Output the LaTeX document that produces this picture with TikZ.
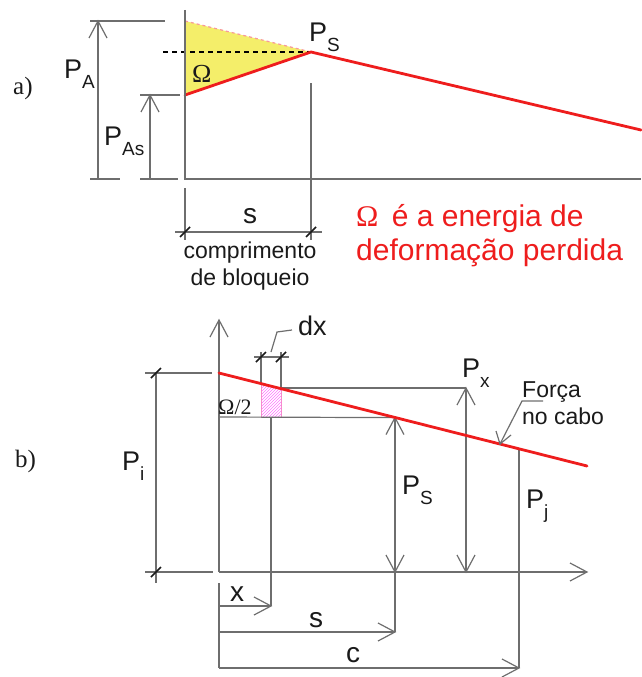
\documentclass[tikz,border=0pt]{standalone}
\usepackage{fontspec}
\setmainfont{Liberation Sans}
\newfontfamily\serfont{Liberation Serif}
\usetikzlibrary{patterns}
\definecolor{gl}{HTML}{6E6E6E}
\definecolor{rd}{HTML}{EE1D1D}
\definecolor{yl}{HTML}{F4EE6A}
\definecolor{txt}{HTML}{1A1A1A}
\newcommand\Psub[1]{{\fontsize{27}{27}\selectfont P\raisebox{-0.36em}{\fontsize{19}{19}\selectfont #1}}}
\begin{document}
\begin{tikzpicture}[x=1pt,y=-1pt,
  dim/.style={draw=gl,line width=1.2pt},
  redline/.style={draw=rd,line width=2.8pt,line cap=round,line join=round},
  lbl/.style={inner sep=0pt,text=txt},
  pics/slashtick/.style={code={\draw[line width=1.5pt,txt] (-5,5)--(5,-5);}},
  pics/vup/.style={code={\draw[dim,line join=miter] (-9,17)--(0,0)--(9,17);}},
  pics/vdown/.style={code={\draw[dim,line join=miter] (-9,-17)--(0,0)--(9,-17);}},
  pics/vright/.style={code={\draw[dim,line join=miter] (-17,-9)--(0,0)--(-17,9);}}]
\useasboundingbox (0,0) rectangle (641,677);

% ================= a) =================
\coordinate (A0) at (185,179);
\coordinate (ATop) at (185,21);
\coordinate (ALow) at (185,95);
\coordinate (PS) at (311,52);
\coordinate (AEnd) at (641,130);

\fill[yl] (ATop) -- (PS) -- (ALow) -- cycle;
\draw[rd!45,line width=1.2pt,dashed] (ATop) -- (PS);
\draw[black,line width=1.2pt,dash pattern=on 5pt off 4pt] (163,52) -- (PS);
\draw[redline] (ALow) -- (PS) -- (AEnd);

% axes
\draw[dim] (185,10) -- (A0) -- (641,179);
\draw[dim] (185,188) -- (185,240);
\draw[dim] (311,83) -- (311,240);

% P_A
\draw[dim] (90,21) -- (165,21);
\draw[dim] (90,179) -- (120,179);
\draw[dim] (98,179) -- (98,21);
\pic at (98,21) {vup};
% P_As
\draw[dim] (140,95) -- (180,95);
\draw[dim] (140,179) -- (178,179);
\draw[dim] (150,179) -- (150,95);
\pic at (150,95) {vup};

% s dimension
\draw[dim] (175,232) -- (322,232);
\pic at (185,232) {slashtick};
\pic at (311,232) {slashtick};

\node[lbl,anchor=west] (la) at (13,88) {\serfont\fontsize{25}{25}\selectfont a)};
\node[lbl,anchor=west] (lpa) at (64,74) {\Psub{A}};
\node[lbl,anchor=west] (lpas) at (104,141) {\Psub{As}};
\node[lbl,anchor=west] (lps) at (309,37) {\Psub{S}};
\node[lbl,anchor=west] (lom) at (192,74) {\serfont\fontsize{26}{26}\selectfont Ω};
\node[lbl] (ls) at (250,216) {\fontsize{28}{28}\selectfont s};
\node[lbl,align=center,font=\fontsize{23}{27}\selectfont] (lcomp) at (250,266) {comprimento\\de bloqueio};
\node[lbl,anchor=west,text=rd,align=left,font=\fontsize{30}{34}\selectfont] (lred) at (356,236)
  {{\serfont Ω}\, é a energia de\\deformação perdida};

% ================= b) =================
\coordinate (O) at (219,572);
\coordinate (Pi) at (219,373);
\coordinate (Pe) at (587,466);
\coordinate (PSb) at (395,417.6);
\coordinate (Pxb) at (466,388);
\coordinate (Pjb) at (519,448.9);
\coordinate (Fa) at (500,444);

% hatched strip
\path[pattern=north east lines,pattern color=magenta!55]
  (261,383.6) -- (281,388.7) -- (281,417) -- (261,417) -- cycle;
\draw[magenta!45,line width=0.8pt] (261,383.6) -- (261,417) -- (281,417) -- (281,388.7);

% axes
\draw[dim] (O) -- (219,320);
\pic at (219,320) {vup};
\draw[dim] (O) -- (587,572);
\pic at (587,572) {vright};
\draw[dim] (145,572) -- (213,572);
\draw[dim] (219,583) -- (219,668);

% P_i
\draw[dim] (145,373) -- (212,373);
\draw[dim] (156,373) -- (156,583);
\pic at (156,373) {slashtick};
\pic at (156,572) {slashtick};

% helper lines
\draw[dim] (219,417) -- (PSb);
\draw[dim] (281,388) -- (Pxb);
\draw[dim] (261,352) -- (261,383.6);
\draw[dim] (281,352) -- (281,388.7);
\draw[dim] (271,417) -- (271,606);

% dx
\draw[dim] (254,357) -- (289,357);
\pic at (261,357) {slashtick};
\pic at (281,357) {slashtick};
\draw[dim] (271,352) -- (277,332) -- (292,330);

% P_S, P_x, P_j
\draw[dim] (PSb) -- (395,632);
\pic at (PSb) {vup};
\pic at (395,572) {vdown};
\draw[dim] (Pxb) -- (466,572);
\pic at (Pxb) {vup};
\pic at (466,572) {vdown};
\draw[dim] (Pjb) -- (519,668);

% x, s, c dimensions
\draw[dim] (219,606) -- (271,606);
\pic at (271,606) {vright};
\draw[dim] (219,632) -- (395,632);
\pic at (395,632) {vright};
\draw[dim] (219,668) -- (519,668);
\pic at (519,668) {vright};

% red force line
\draw[redline] (Pi) -- (Pe);

% Forca leader
\draw[dim] (543,401) -- (522,401) -- (Fa);
\draw[dim,line join=miter] (496,431) -- (Fa) -- (511,435);

% labels
\node[lbl,anchor=west] (lb) at (15,461) {\serfont\fontsize{25}{25}\selectfont b)};
\node[lbl,anchor=west] (lpi) at (122,466) {\Psub{i}};
\node[lbl,anchor=west] (lpsb) at (402,490) {\Psub{S}};
\node[lbl,anchor=west] (lpj) at (526,506) {\Psub{j}};
\node[lbl,anchor=west] (lpx) at (462,373) {\Psub{x}};
\node[lbl,anchor=west] (ldx) at (298,326) {\fontsize{27}{27}\selectfont dx};
\node[lbl,anchor=west] (lom2) at (218,407) {\serfont\fontsize{22}{22}\selectfont Ω/2};
\node[lbl,anchor=west,align=left,font=\fontsize{23}{27}\selectfont] (lforca) at (522,403) {Força\\no cabo};
\node[lbl] (lx) at (237,594) {\fontsize{28}{28}\selectfont x};
\node[lbl] (ls2) at (316,620) {\fontsize{28}{28}\selectfont s};
\node[lbl] (lc) at (353,655) {\fontsize{28}{28}\selectfont c};
\end{tikzpicture}
\end{document}
